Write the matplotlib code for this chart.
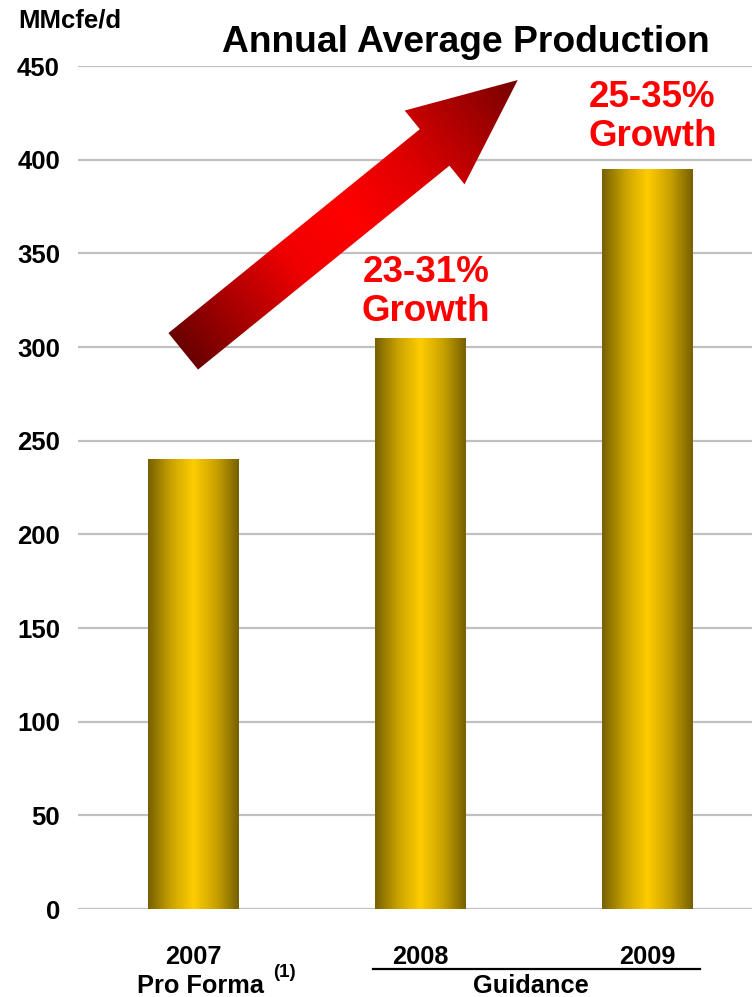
import numpy as np
import matplotlib
matplotlib.use("Agg")
import matplotlib.pyplot as plt
from matplotlib.colors import LinearSegmentedColormap
from matplotlib.patches import Polygon
from matplotlib.lines import Line2D
from matplotlib.transforms import blended_transform_factory

plt.rcParams['font.family'] = ['Liberation Sans', 'DejaVu Sans']
plt.rcParams['font.weight'] = 'bold'

# ---- data ----
years = ['2007', '2008', '2009']
production = [240, 305, 395]          # MMcfe/d
growth_text = ['', '23-31%\nGrowth', '25-35%\nGrowth']
growth_offset_pt = [0, 6, 11]
y_ticks = [0, 50, 100, 150, 200, 250, 300, 350, 400, 450]

W, H = 752, 997
fig = plt.figure(figsize=(W / 100, H / 100), dpi=100)
ax = fig.add_axes([78 / W, 88 / H, 674 / W, 843 / H])

# ---- axes styling ----
for s in ax.spines.values():
    s.set_visible(False)
ax.set_yticks(y_ticks)
ax.yaxis.grid(True, color='#c0c0c0', lw=1.6)
ax.set_axisbelow(True)
ax.tick_params(axis='y', length=0, pad=13, labelsize=18.5)
ax.tick_params(axis='x', length=0, pad=26, labelsize=18.3)
ax.set_xticks(range(len(years)), years)

# ---- gold gradient bars ----
gold = LinearSegmentedColormap.from_list(
    'gold', [(0.0, '#766000'), (0.25, '#c9a200'), (0.5, '#ffcc00'),
             (0.75, '#c9a200'), (1.0, '#766000')])
ramp = np.linspace(0, 1, 256).reshape(1, -1)
bars = ax.bar(range(len(years)), production, width=0.40,
              color='none', edgecolor='none', zorder=2)
for b in bars:
    x0, y0 = b.get_x(), b.get_y()
    im = ax.imshow(ramp, cmap=gold, aspect='auto', interpolation='bilinear',
                   extent=[x0, x0 + b.get_width(), y0, y0 + b.get_height()],
                   zorder=2)
    im.set_clip_path(b)

ax.set_xlim(-0.509, 2.463)
ax.set_ylim(0, 450)

# ---- growth labels ----
for i, txt in enumerate(growth_text):
    if txt:
        ax.annotate(txt, xy=(i, production[i]), xytext=(4, growth_offset_pt[i]),
                    textcoords='offset points', ha='center', va='bottom',
                    color='#ff0000', fontsize=26.5, linespacing=1.15)

# ---- big trend arrow (gradient filled) ----
def arrow_outline(tail, tip, shaft_px, head_w_px, head_len_px):
    t = ax.transData.transform(tail)
    p = ax.transData.transform(tip)
    d = p - t
    L = np.hypot(*d)
    u = d / L
    n = np.array([-u[1], u[0]])
    base = p - u * head_len_px
    pts = [t + n * shaft_px / 2, base + n * shaft_px / 2, base + n * head_w_px / 2,
           p, base - n * head_w_px / 2, base - n * shaft_px / 2, t - n * shaft_px / 2]
    return np.array(pts), t, u, L

arrow_tail = (-0.045, 297.7)
arrow_tip = (1.43, 442.5)
pts_disp, t_disp, u_disp, L_disp = arrow_outline(arrow_tail, arrow_tip, 47, 95, 107)
inv = ax.transData.inverted()
pts_data = inv.transform(pts_disp)
arrow = Polygon(pts_data, closed=True, facecolor='none', edgecolor='none', zorder=3)
ax.add_patch(arrow)

reds = LinearSegmentedColormap.from_list(
    'reds', [(0.0, '#6a0000'), (0.33, '#f00000'), (0.5, '#ff0000'),
             (0.68, '#e00000'), (1.0, '#780000')])
xmin, ymin = pts_disp.min(axis=0)
xmax, ymax = pts_disp.max(axis=0)
gx, gy = np.meshgrid(np.linspace(xmin, xmax, 300), np.linspace(ymin, ymax, 300))
proj = ((gx - t_disp[0]) * u_disp[0] + (gy - t_disp[1]) * u_disp[1]) / L_disp
lo = inv.transform((xmin, ymin))
hi = inv.transform((xmax, ymax))
aim = ax.imshow(np.clip(proj, 0, 1), cmap=reds, origin='lower', aspect='auto',
                extent=[lo[0], hi[0], lo[1], hi[1]], zorder=3,
                interpolation='bilinear', vmin=0, vmax=1)
aim.set_clip_path(arrow)
ax.set_xlim(-0.509, 2.463)
ax.set_ylim(0, 450)

# ---- titles and category notes ----
fig.text(466 / W, 1 - 52 / H, 'Annual Average Production', ha='center',
         va='baseline', fontsize=26.8)
fig.text(18 / W, 1 - 28 / H, 'MMcfe/d', ha='left', va='baseline', fontsize=18.5)

bt = blended_transform_factory(ax.transData, fig.transFigure)
ax.text(0.03, 1 - 993 / H, 'Pro Forma', transform=bt, ha='center',
        va='baseline', fontsize=18.3)
ax.text(0.35, 1 - 977 / H, '(1)', transform=bt, ha='left', va='baseline',
        fontsize=13.5)
ax.text(1.49, 1 - 993 / H, 'Guidance', transform=bt, ha='center',
        va='baseline', fontsize=18.3)
fig.add_artist(Line2D([0.79, 2.234], [1 - 969 / H] * 2, transform=bt,
                      color='black', lw=1.6))

fig.savefig('out.png', dpi=100)
